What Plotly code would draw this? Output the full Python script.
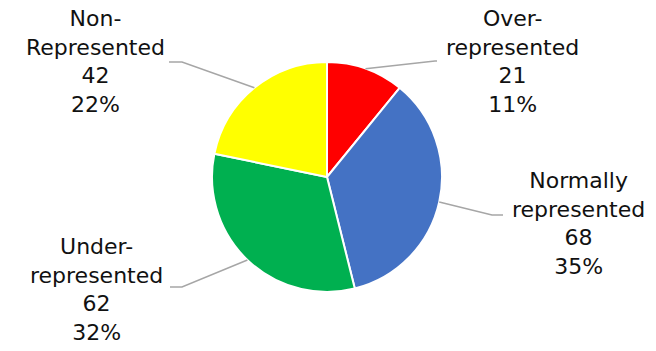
import math
import plotly.graph_objects as go

categories = ["Over-<br>represented", "Normally<br>represented", "Under-<br>represented", "Non-<br>Represented"]
values = [21, 68, 62, 42]
colors = ["#FF0000", "#4472C4", "#00B050", "#FFFF00"]

W, H = 656, 351
# pie geometry (pixels)
CX, CY, R = 327, 177, 115

# label layout: text centre, leader elbow, leader end (pixels)
label_pos = [(512, 61), (578, 223), (96, 289), (95, 61)]
elbows = [(435, 61), (492, 215), (182, 287), (182, 62)]
ends = [(437, 61), (503, 215), (170, 287), (169, 62)]

fig = go.Figure()
fig.add_trace(go.Pie(
    labels=categories, values=values, sort=False, direction="clockwise", rotation=0,
    marker=dict(colors=colors, line=dict(color="white", width=2)),
    textinfo="none", hoverinfo="label+value+percent", showlegend=False,
    domain=dict(x=[(CX - R) / W, (CX + R) / W], y=[1 - (CY + R) / H, 1 - (CY - R) / H]),
))

total = sum(values)
cum = 0
shapes = []
annotations = []
for i, v in enumerate(values):
    mid = (cum + v / 2) / total * 2 * math.pi
    cum += v
    ex = CX + R * math.sin(mid)
    ey = CY - R * math.cos(mid)
    (bx, by), (fx, fy) = elbows[i], ends[i]
    shapes.append(dict(type="path", xref="x", yref="y",
                       path=f"M {ex:.1f},{ey:.1f} L {bx},{by} L {fx},{fy}",
                       line=dict(color="#A6A6A6", width=1.5)))
    pct = round(v / total * 100)
    annotations.append(dict(x=label_pos[i][0], y=label_pos[i][1], xref="x", yref="y",
                            text=f"{categories[i]}<br>{v}<br>{pct}%", showarrow=False,
                            xanchor="center", yanchor="middle", align="center",
                            font=dict(family="DejaVu Sans", size=22, color="#111111")))

fig.update_layout(
    width=W, height=H, margin=dict(l=0, r=0, t=0, b=0),
    paper_bgcolor="white", plot_bgcolor="rgba(0,0,0,0)",
    xaxis=dict(range=[0, W], visible=False, fixedrange=True),
    yaxis=dict(range=[H, 0], visible=False, fixedrange=True),
    shapes=shapes, annotations=annotations,
)
fig.write_html("out.html", config={"displayModeBar": False},
               post_script="document.body.style.margin='0';")
